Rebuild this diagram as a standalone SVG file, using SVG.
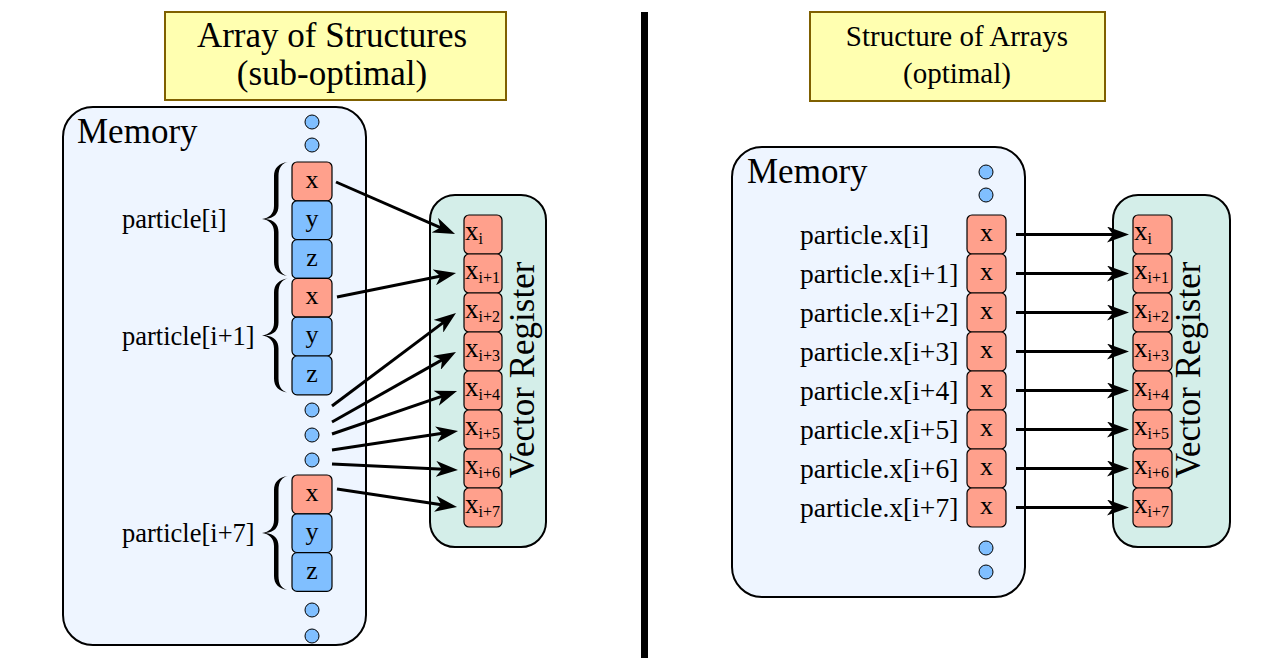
<svg xmlns="http://www.w3.org/2000/svg" width="1278" height="658" viewBox="0 0 1278 658">
<style>
text{font-family:"Liberation Serif","Times New Roman",serif;fill:#000}
.title{fill:#ffffb0;stroke:#7f6000;stroke-width:2}
.mem{fill:#eef5ff;stroke:#000;stroke-width:2}
.reg{fill:#d4eee9;stroke:#000;stroke-width:2}
.cx{fill:#ffa08c;stroke:#000;stroke-width:1.2}
.cy{fill:#80bfff;stroke:#000;stroke-width:1.2}
.dot{fill:#80bfff;stroke:#000;stroke-width:1}
.tt{font-size:35px;text-anchor:middle}
.tr{font-size:29px;text-anchor:middle}
.ml{font-size:35px}
.lb{font-size:26.5px}
.lr{font-size:27.5px}
.ct{font-size:26px;text-anchor:middle}
.rx{font-size:27px}
.sub{font-size:16px}
.vr{font-size:35px;text-anchor:middle}
.arr{stroke:#000;stroke-width:3;fill:none;marker-end:url(#ah)}
</style>
<defs>
<marker id="ah" markerUnits="userSpaceOnUse" markerWidth="24" markerHeight="16" viewBox="0 0 24 16" refX="8" refY="8" orient="auto">
<path d="M0,0 L22,8 L0,16 L6,8 Z" fill="#000"/>
</marker>
<path id="brace" d="M26,0 C17,1 12,6 12,14 L12,44 C12,52 7,56 0,57 C7,58 12,62 12,70 L12,100 C12,108 17,113 26,114 C20,113 16.5,108 16.5,100 L16.5,70 C16.5,62 12,58 3.5,57 C12,56 16.5,52 16.5,44 L16.5,14 C16.5,6 20,1 26,0 Z" fill="#000"/>
</defs>

<g id="divider"><rect x="641" y="12" width="7" height="646" fill="#000"/></g>

<g id="title-aos">
<rect class="title" x="165" y="12" width="341" height="88"/>
<text class="tt" x="332" y="47">Array of Structures</text>
<text class="tt" x="332" y="85">(sub-optimal)</text>
</g>
<g id="title-soa">
<rect class="title" x="810" y="12" width="295" height="89"/>
<text class="tr" x="957" y="46">Structure of Arrays</text>
<text class="tr" x="957" y="83">(optimal)</text>
</g>

<g id="memory-aos">
<rect class="mem" x="63" y="107" width="303" height="538" rx="30"/>
<text class="ml" x="77" y="143">Memory</text>
<circle class="dot" cx="312" cy="122" r="7"/>
<circle class="dot" cx="312" cy="145" r="7"/>
<circle class="dot" cx="312" cy="410" r="7"/>
<circle class="dot" cx="312" cy="435" r="7"/>
<circle class="dot" cx="312" cy="460" r="7"/>
<circle class="dot" cx="312" cy="610" r="7"/>
<circle class="dot" cx="312" cy="636" r="7"/>
<g id="particle-i">
<use href="#brace" x="262" y="162"/>
<text class="lb" x="122" y="228">particle[i]</text>
<rect class="cx" x="292" y="162" width="40" height="38.8" rx="5"/><text class="ct" x="312" y="188">x</text>
<rect class="cy" x="292" y="200.8" width="40" height="38.8" rx="5"/><text class="ct" x="312" y="226.8">y</text>
<rect class="cy" x="292" y="239.6" width="40" height="38.8" rx="5"/><text class="ct" x="312" y="265.6">z</text>
</g>
<g id="particle-i1">
<use href="#brace" x="262" y="278.4"/>
<text class="lb" x="122" y="345">particle[i+1]</text>
<rect class="cx" x="292" y="278.4" width="40" height="38.8" rx="5"/><text class="ct" x="312" y="304.4">x</text>
<rect class="cy" x="292" y="317.2" width="40" height="38.8" rx="5"/><text class="ct" x="312" y="343.2">y</text>
<rect class="cy" x="292" y="356" width="40" height="38.8" rx="5"/><text class="ct" x="312" y="382">z</text>
</g>
<g id="particle-i7">
<use href="#brace" x="262" y="476"/>
<text class="lb" x="122" y="542">particle[i+7]</text>
<rect class="cx" x="292" y="475" width="40" height="38.8" rx="5"/><text class="ct" x="312" y="501">x</text>
<rect class="cy" x="292" y="513.8" width="40" height="38.8" rx="5"/><text class="ct" x="312" y="539.8">y</text>
<rect class="cy" x="292" y="552.6" width="40" height="38.8" rx="5"/><text class="ct" x="312" y="578.6">z</text>
</g>
</g>

<g id="register-aos">
<rect class="reg" x="430" y="195" width="116" height="352" rx="25"/>
<rect class="cx" x="464" y="215" width="38" height="39" rx="5"/><text class="rx" x="465" y="240">x<tspan class="sub" dy="4">i</tspan></text>
<rect class="cx" x="464" y="254" width="38" height="39" rx="5"/><text class="rx" x="465" y="279">x<tspan class="sub" dy="4">i+1</tspan></text>
<rect class="cx" x="464" y="293" width="38" height="39" rx="5"/><text class="rx" x="465" y="318">x<tspan class="sub" dy="4">i+2</tspan></text>
<rect class="cx" x="464" y="332" width="38" height="39" rx="5"/><text class="rx" x="465" y="357">x<tspan class="sub" dy="4">i+3</tspan></text>
<rect class="cx" x="464" y="371" width="38" height="39" rx="5"/><text class="rx" x="465" y="396">x<tspan class="sub" dy="4">i+4</tspan></text>
<rect class="cx" x="464" y="410" width="38" height="39" rx="5"/><text class="rx" x="465" y="435">x<tspan class="sub" dy="4">i+5</tspan></text>
<rect class="cx" x="464" y="449" width="38" height="39" rx="5"/><text class="rx" x="465" y="474">x<tspan class="sub" dy="4">i+6</tspan></text>
<rect class="cx" x="464" y="488" width="38" height="39" rx="5"/><text class="rx" x="465" y="513">x<tspan class="sub" dy="4">i+7</tspan></text>
<text class="vr" transform="translate(534,370) rotate(-90)">Vector Register</text>
</g>

<g id="memory-soa">
<rect class="mem" x="732" y="147" width="293" height="450" rx="30"/>
<text class="ml" x="747" y="183">Memory</text>
<circle class="dot" cx="986" cy="172" r="7"/>
<circle class="dot" cx="986" cy="195" r="7"/>
<circle class="dot" cx="986" cy="548" r="7"/>
<circle class="dot" cx="986" cy="572" r="7"/>
<text class="lr" x="800" y="244">particle.x[i]</text>
<text class="lr" x="800" y="283">particle.x[i+1]</text>
<text class="lr" x="800" y="322">particle.x[i+2]</text>
<text class="lr" x="800" y="361">particle.x[i+3]</text>
<text class="lr" x="800" y="400">particle.x[i+4]</text>
<text class="lr" x="800" y="439">particle.x[i+5]</text>
<text class="lr" x="800" y="478">particle.x[i+6]</text>
<text class="lr" x="800" y="517">particle.x[i+7]</text>
<rect class="cx" x="967" y="215" width="39" height="39" rx="5"/><text class="ct" x="986.5" y="241">x</text>
<rect class="cx" x="967" y="254" width="39" height="39" rx="5"/><text class="ct" x="986.5" y="280">x</text>
<rect class="cx" x="967" y="293" width="39" height="39" rx="5"/><text class="ct" x="986.5" y="319">x</text>
<rect class="cx" x="967" y="332" width="39" height="39" rx="5"/><text class="ct" x="986.5" y="358">x</text>
<rect class="cx" x="967" y="371" width="39" height="39" rx="5"/><text class="ct" x="986.5" y="397">x</text>
<rect class="cx" x="967" y="410" width="39" height="39" rx="5"/><text class="ct" x="986.5" y="436">x</text>
<rect class="cx" x="967" y="449" width="39" height="39" rx="5"/><text class="ct" x="986.5" y="475">x</text>
<rect class="cx" x="967" y="488" width="39" height="39" rx="5"/><text class="ct" x="986.5" y="514">x</text>
</g>

<g id="register-soa">
<rect class="reg" x="1113" y="195" width="117" height="352" rx="25"/>
<rect class="cx" x="1133" y="215" width="39" height="39" rx="5"/><text class="rx" x="1134" y="240">x<tspan class="sub" dy="4">i</tspan></text>
<rect class="cx" x="1133" y="254" width="39" height="39" rx="5"/><text class="rx" x="1134" y="279">x<tspan class="sub" dy="4">i+1</tspan></text>
<rect class="cx" x="1133" y="293" width="39" height="39" rx="5"/><text class="rx" x="1134" y="318">x<tspan class="sub" dy="4">i+2</tspan></text>
<rect class="cx" x="1133" y="332" width="39" height="39" rx="5"/><text class="rx" x="1134" y="357">x<tspan class="sub" dy="4">i+3</tspan></text>
<rect class="cx" x="1133" y="371" width="39" height="39" rx="5"/><text class="rx" x="1134" y="396">x<tspan class="sub" dy="4">i+4</tspan></text>
<rect class="cx" x="1133" y="410" width="39" height="39" rx="5"/><text class="rx" x="1134" y="435">x<tspan class="sub" dy="4">i+5</tspan></text>
<rect class="cx" x="1133" y="449" width="39" height="39" rx="5"/><text class="rx" x="1134" y="474">x<tspan class="sub" dy="4">i+6</tspan></text>
<rect class="cx" x="1133" y="488" width="39" height="39" rx="5"/><text class="rx" x="1134" y="513">x<tspan class="sub" dy="4">i+7</tspan></text>
<text class="vr" transform="translate(1200,370) rotate(-90)">Vector Register</text>
</g>

<g id="connectors">
<line class="arr" x1="336" y1="182" x2="442.2" y2="228.4"/>
<line class="arr" x1="337" y1="297" x2="442.3" y2="275.8"/>
<line class="arr" x1="332" y1="406" x2="444.8" y2="321.4"/>
<line class="arr" x1="332" y1="422" x2="443.8" y2="358.9"/>
<line class="arr" x1="332" y1="434" x2="443.8" y2="395.6"/>
<line class="arr" x1="332" y1="450" x2="444.2" y2="433.1"/>
<line class="arr" x1="332" y1="464" x2="444" y2="469.3"/>
<line class="arr" x1="337" y1="489" x2="443.2" y2="504.9"/>
<line class="arr" x1="1016" y1="234.5" x2="1115" y2="234.5"/>
<line class="arr" x1="1016" y1="273.5" x2="1115" y2="273.5"/>
<line class="arr" x1="1016" y1="312.5" x2="1115" y2="312.5"/>
<line class="arr" x1="1016" y1="351.5" x2="1115" y2="351.5"/>
<line class="arr" x1="1016" y1="390.5" x2="1115" y2="390.5"/>
<line class="arr" x1="1016" y1="429.5" x2="1115" y2="429.5"/>
<line class="arr" x1="1016" y1="468.5" x2="1115" y2="468.5"/>
<line class="arr" x1="1016" y1="507.5" x2="1115" y2="507.5"/>
</g>
</svg>
